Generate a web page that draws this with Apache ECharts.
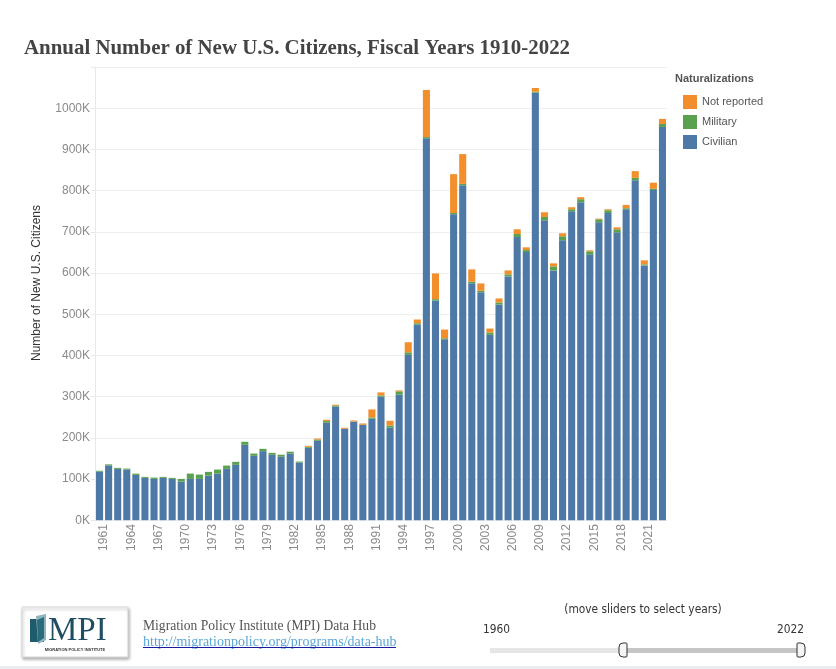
<!DOCTYPE html>
<html>
<head>
<meta charset="utf-8">
<script src="https://cdn.jsdelivr.net/npm/echarts@6/dist/echarts.min.js"></script>
<style>
html,body{margin:0;padding:0;background:#fff;}
#chart{width:836px;height:669px;}
</style>
</head>
<body>
<div id="chart"></div>
<script>
// ---- data (thousands) ----
var years = ['1960','1961','1962','1963','1964','1965','1966','1967','1968','1969',
'1970','1971','1972','1973','1974','1975','1976','1977','1978','1979',
'1980','1981','1982','1983','1984','1985','1986','1987','1988','1989',
'1990','1991','1992','1993','1994','1995','1996','1997','1998','1999',
'2000','2001','2002','2003','2004','2005','2006','2007','2008','2009',
'2010','2011','2012','2013','2014','2015','2016','2017','2018','2019',
'2020','2021','2022'];
var civilian = [118,133,124.6,123,110,102.7,100.2,102.7,100.2,93.7,
100.2,100.2,108.3,113.1,124.6,134.3,183,156.2,167.6,158.6,
154,161.8,139.9,175.7,192.7,236.5,275.4,221.4,239.2,231.1,
246.2,299.8,225.1,304.6,401.2,474.9,926.8,533.3,439.2,742.6,
813.1,575.4,553.5,449.9,523.6,591.7,687.3,650.9,1037.7,728,
606.3,679.3,749.9,771.8,645.3,723.1,745.7,698.8,754.7,825.3,
618.5,801.5,954.5];
var military = [2,2.5,2.4,2.3,3,2.4,3.2,2.4,2.5,6.5,
12.9,10.5,9,9.8,8,7.3,7.3,5.6,5.6,4.9,
5,4.5,2.4,2.4,3.2,4.1,3.2,0.5,0.5,0.5,
3.2,3.1,4.8,8.1,6.3,3.2,3.1,3.2,2.4,3.1,
3.2,3.4,3.4,5.6,4.9,4.9,7.3,4.8,2.4,8,
9.8,9.8,4.8,7.3,7.3,7.3,6.6,7.3,2.5,5.6,
2.5,3.1,7.3];
var notReported = [0,0,0,0,0,0,0,0,0,0,
0,0,0,0,0,0,0,0,0,0,
0,0,0,2.4,2.4,3.2,1.7,2.4,2.4,3.2,
19.5,7.3,11.5,2.4,24.4,9,114.4,62.5,21.2,94.2,
72.3,30,17.8,9.7,9.7,9.7,11.5,6.6,9,11.4,
7.3,7.3,4.9,4.9,2.4,1.6,2.4,4.8,8,16.3,
9.7,14.6,12.2];
var yTicks = [0,100,200,300,400,500,600,700,800,900,1000];

var titleText = 'Annual Number of New U.S. Citizens, Fiscal Years 1910-2022';
var titleFont = '"Liberation Serif", "DejaVu Serif", serif';
// fit title width
var cv = document.createElement('canvas').getContext('2d');
cv.font = 'bold 100px ' + titleFont;
var titleSize = Math.round(100 * 546 / cv.measureText(titleText).width * 10) / 10;

var C_CIV = '#4E79A7', C_MIL = '#59A14F', C_NR = '#F28E2B';
var narrow = '"Liberation Sans Narrow", "DejaVu Sans Condensed", sans-serif';

var chart = echarts.init(document.getElementById('chart'), null, {renderer: 'canvas'});
var option = {
  animation: false,
  backgroundColor: '#fff',
  grid: {left: 95, right: 169, top: 67, bottom: 148.8, containLabel: false},
  legend: {
    data: ['Not reported', 'Military', 'Civilian'],
    orient: 'vertical', left: 678, top: 90,
    itemWidth: 14, itemHeight: 14, itemGap: 6,
    icon: 'rect',
    textStyle: {fontFamily: '"Liberation Sans", Arial, sans-serif', fontSize: 11, color: '#555'},
    selectedMode: false
  },
  xAxis: {
    type: 'category', data: years,
    axisLine: {show: false}, axisTick: {show: false},
    axisLabel: {
      rotate: 90, fontSize: 12, color: '#8a8a8a',
      fontFamily: '"Liberation Sans", Arial, sans-serif',
      margin: 4, verticalAlign: 'bottom', lineHeight: 9,
      interval: function (i, v) { return (parseInt(v, 10) - 1961) % 3 === 0; }
    }
  },
  yAxis: {
    type: 'value', min: 0, max: 1100, interval: 100,
    axisLine: {show: true, lineStyle: {color: '#e8e8e8'}},
    axisTick: {show: true, length: 4, lineStyle: {color: '#e8e8e8'}},
    splitLine: {lineStyle: {color: '#efefef', width: 1}},
    axisLabel: {
      fontSize: 12, color: '#8a8a8a', margin: 5,
      fontFamily: '"Liberation Sans", Arial, sans-serif',
      formatter: function (v) { return yTicks.indexOf(v) >= 0 ? v + 'K' : ''; }
    }
  },
  series: [
    {name: 'Civilian', type: 'bar', stack: 'n', data: civilian, itemStyle: {color: C_CIV}, barCategoryGap: '22%'},
    {name: 'Military', type: 'bar', stack: 'n', data: military, itemStyle: {color: C_MIL}},
    {name: 'Not reported', type: 'bar', stack: 'n', data: notReported, itemStyle: {color: C_NR}}
  ],
  graphic: [
    {type: 'text', left: 24, top: 38, style: {text: titleText, font: 'bold ' + titleSize + 'px ' + titleFont, fill: '#444'}},
    {type: 'text', x: 37, y: 283, rotation: Math.PI / 2,
     style: {text: 'Number of New U.S. Citizens', font: '12px "Liberation Sans", Arial, sans-serif', fill: '#333', align: 'center', verticalAlign: 'middle'}},
    {type: 'text', x: 675, y: 79, style: {text: 'Naturalizations', font: 'bold 11px "Liberation Sans", Arial, sans-serif', fill: '#555', verticalAlign: 'middle'}},
    // logo
    {type: 'rect', shape: {x: 22, y: 607, width: 106, height: 50},
     style: {fill: '#fff', stroke: '#d8d8d8', lineWidth: 1, shadowBlur: 3, shadowColor: 'rgba(0,0,0,0.3)', shadowOffsetX: 1, shadowOffsetY: 2}},
    {type: 'polygon', shape: {points: [[30, 619], [44, 619], [44, 642], [30, 642]]}, style: {fill: '#1f5c6b'}},
    {type: 'polygon', shape: {points: [[36, 616], [46, 614], [46, 640], [38, 644]]}, style: {fill: '#8fb6bf'}},
    {type: 'polygon', shape: {points: [[37, 620], [44, 617], [44, 638], [38, 642]]}, style: {fill: '#2b6b7a'}},
    {type: 'text', x: 48, y: 631, style: {text: 'MPI', font: '33px "Liberation Serif", serif', fill: '#1f4e63', verticalAlign: 'middle'}},
    {type: 'text', x: 75, y: 650, style: {text: 'MIGRATION POLICY INSTITUTE', font: 'bold 4px "Liberation Sans", sans-serif', fill: '#333', align: 'center', verticalAlign: 'middle'}},
    // source text
    {type: 'text', x: 143, y: 626, style: {text: 'Migration Policy Institute (MPI) Data Hub', font: '13.6px "Liberation Serif", serif', fill: '#555', verticalAlign: 'middle'}},
    {type: 'text', x: 143, y: 642, style: {text: 'http://migrationpolicy.org/programs/data-hub', font: '14px "Liberation Serif", serif', fill: '#5aa6d6', verticalAlign: 'middle'}},
    {type: 'line', shape: {x1: 143, y1: 647.5, x2: 396, y2: 647.5}, style: {stroke: '#1a1aa0', lineWidth: 1}},
    // slider
    {type: 'text', x: 643, y: 610, style: {text: '(move sliders to select years)', font: '11.8px ' + narrow, fill: '#333', align: 'center', verticalAlign: 'middle'}},
    {type: 'text', x: 483, y: 630, style: {text: '1960', font: '11.8px ' + narrow, fill: '#333', verticalAlign: 'middle'}},
    {type: 'text', x: 804, y: 630, style: {text: '2022', font: '11.8px ' + narrow, fill: '#333', align: 'right', verticalAlign: 'middle'}},
    {type: 'rect', shape: {x: 490, y: 648, width: 133, height: 5}, style: {fill: '#e6e6e6'}},
    {type: 'rect', shape: {x: 623, y: 648, width: 178, height: 5}, style: {fill: '#c6c6c6'}},
    {type: 'rect', shape: {x: 619, y: 643, width: 8, height: 14, r: [4, 1, 1, 4]}, style: {fill: '#f4f4f4', stroke: '#333', lineWidth: 1}},
    {type: 'rect', shape: {x: 797, y: 643, width: 8, height: 14, r: [1, 4, 4, 1]}, style: {fill: '#f4f4f4', stroke: '#333', lineWidth: 1}},
    {type: 'rect', shape: {x: 0, y: 666, width: 836, height: 3}, style: {fill: '#ebebf2'}}
  ]
};
chart.setOption(option);
</script>
</body>
</html>
